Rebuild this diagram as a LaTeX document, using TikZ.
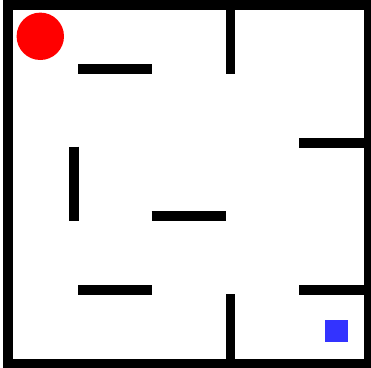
\documentclass[tikz,border=0pt]{standalone}
\usepackage{tikz}
\definecolor{ballclr}{RGB}{255,0,0}
\definecolor{goalclr}{RGB}{51,51,255}
\tikzset{
  wall/.style={line width=9.6pt,line cap=butt,draw=black},
  border/.style={line width=10pt,draw=black},
  ball/.style={circle,fill=ballclr,minimum size=47.4pt,inner sep=0pt},
  goal/.style={rectangle,fill=goalclr,minimum width=22.7pt,minimum height=22.3pt,inner sep=0pt},
}
\begin{document}
\begin{tikzpicture}[x=1pt,y=-1pt]
\useasboundingbox (0,0) rectangle (371,367);
\clip (0,0) rectangle (371,367);
% outer frame
\draw[border] (8.3,4.6) rectangle (369.3,364);
% inner walls
\draw[wall] (78.3,69.2) -- (152.3,69.2);
\draw[wall] (230.3,4) -- (230.3,74);
\draw[wall] (299.3,142.7) -- (366,142.7);
\draw[wall] (73.7,146.7) -- (73.7,220.7);
\draw[wall] (151.7,215.9) -- (226,215.9);
\draw[wall] (78.3,289.7) -- (152.3,289.7);
\draw[wall] (230.3,294.3) -- (230.3,362);
\draw[wall] (299.3,289.7) -- (366,289.7);
% start and goal
\node[ball] (start) at (40.3,36.3) {};
\node[goal] (target) at (336.3,331.2) {};
\end{tikzpicture}
\end{document}
